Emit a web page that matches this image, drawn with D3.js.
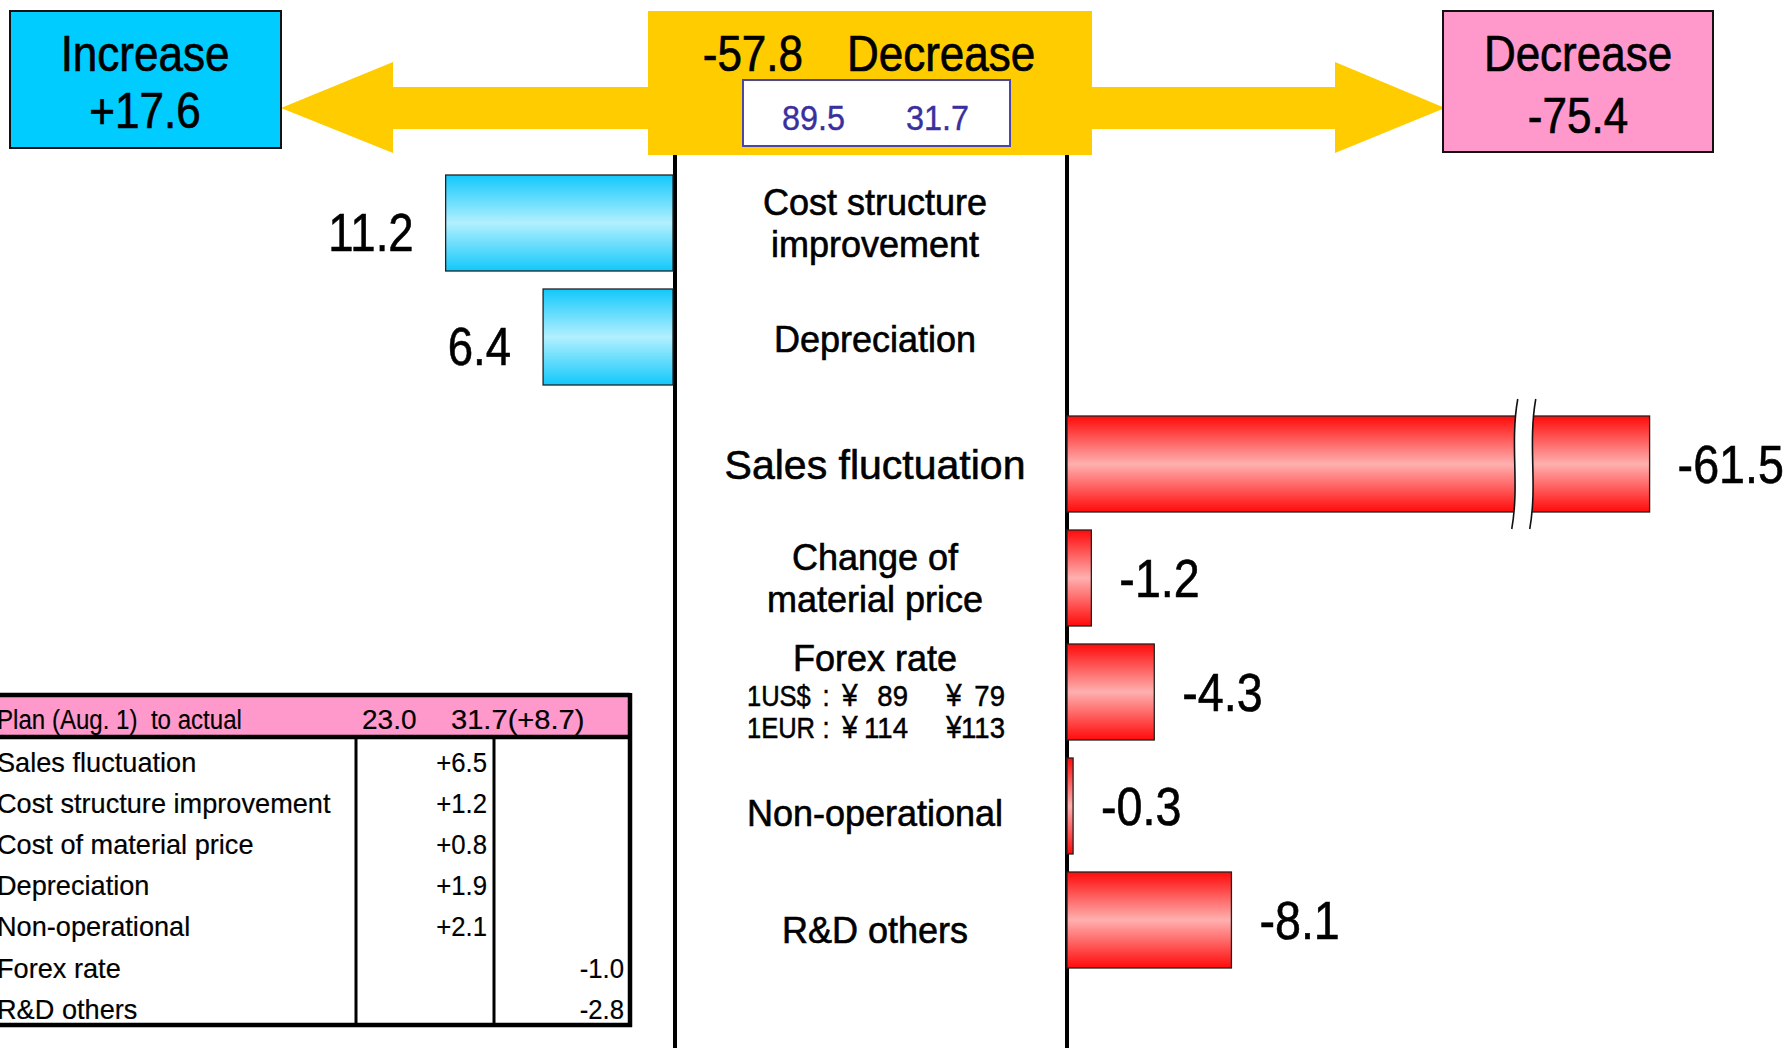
<!DOCTYPE html>
<html><head><meta charset="utf-8">
<script src="https://cdn.jsdelivr.net/npm/d3@7"></script>
<style>html,body{margin:0;padding:0;background:#fff;overflow:hidden}</style>
</head><body>
<svg id="chart" width="1786" height="1048"></svg>
<script>
// ---------- data ----------
const categories = ["Cost structure improvement","Depreciation","Sales fluctuation","Change of material price","Forex rate","Non-operational","R&D others"];
const categoryLines = [["Cost structure","improvement"],["Depreciation"],["Sales fluctuation"],["Change of","material price"],["Forex rate"],["Non-operational"],["R&D others"]];
const values = [11.2, 6.4, -61.5, -1.2, -4.3, -0.3, -8.1];
const totalIncrease = "+17.6";
const totalDecrease = "-75.4";
const netChange = "-57.8";
const profitPrev = "89.5";
const profitCurr = "31.7";
const forexRows = [["1US$","89","79"],["1EUR","114","113"]];
const tableHeader = ["Plan (Aug. 1)  to actual","23.0","31.7(+8.7)"];
const tableRows = ["Sales fluctuation","Cost structure improvement","Cost of material price","Depreciation","Non-operational","Forex rate","R&D others"];
const tablePlus = ["+6.5","+1.2","+0.8","+1.9","+2.1","",""];
const tableMinus = ["","","","","","-1.0","-2.8"];

// ---------- setup ----------
const FONT = "'Liberation Sans', Arial, Helvetica, sans-serif";
const svg = d3.select("#chart").attr("font-family", FONT);
const defs = svg.append("defs");
function grad(id, edge, mid){
  const g = defs.append("linearGradient").attr("id", id).attr("x1",0).attr("y1",0).attr("x2",0).attr("y2",1);
  [[0,edge],[0.5,mid],[1,edge]].forEach(([o,c])=>g.append("stop").attr("offset",o).attr("stop-color",c));
}
grad("gBlue", "#12c8fb", "#b2f0fe");
grad("gRed", "#ff0a0a", "#ffb0b0");

function txt(g, x, y, s, o){
  const fill = o.fill||"#000";
  return g.append("text")
    .attr("transform", `translate(${x},${y}) scale(${o.sx||1},1)`)
    .attr("font-size", o.size)
    .attr("text-anchor", o.anchor||"middle")
    .attr("fill", fill)
    .attr("stroke", o.sw ? fill : "none")
    .attr("stroke-width", o.sw||0)
    .style("white-space","pre")
    .text(s);
}

const axisL = 675, axisR = 1067, labelCx = 875;
const xs = d3.scaleLinear().domain([0, 30]).range([0, 609]);
const maxDisplay = 28.7;   // longer bars are drawn broken
const breakAt = 22.5;

const band = d3.scaleBand().domain(d3.range(values.length)).range([175, 175 + 114*(values.length - 18/114)]).paddingInner(18/114).paddingOuter(0);
const groupGap = 13;
const yTop = i => band(i) + (values[i] < 0 ? groupGap : 0);
const bh = band.bandwidth();
const yC = i => yTop(i) + bh/2;
// small vertical nudges of the centre labels (layout only)
const labelNudge = {"Non-operational": 7, "R&D others": 10, "Depreciation": 2};

// ---------- top arrows & boxes ----------
const yellow = "#ffcc00";
const topG = svg.append("g");
const line = d3.line();
topG.append("path").attr("fill", yellow)
  .attr("d", line([[281,108],[393,62],[393,87],[660,87],[660,129],[393,129],[393,153]]) + "Z");
topG.append("path").attr("fill", yellow)
  .attr("d", line([[1080,87],[1335,87],[1335,62],[1445,108],[1335,153],[1335,129],[1080,129]]) + "Z");
topG.append("rect").attr("x",648).attr("y",11).attr("width",444).attr("height",144).attr("fill",yellow);
topG.append("rect").attr("x",743).attr("y",80).attr("width",267).attr("height",66).attr("fill","#fff").attr("stroke","#4b47a8").attr("stroke-width",2);

topG.append("rect").attr("x",10).attr("y",11).attr("width",271).attr("height",137).attr("fill","#00ccff").attr("stroke","#111").attr("stroke-width",2);
topG.append("rect").attr("x",1443).attr("y",11).attr("width",270).attr("height",141).attr("fill","#ff99cc").attr("stroke","#111").attr("stroke-width",2);

const H = {size:50, sx:0.88, sw:0.7};
txt(topG, 145, 71, "Increase", H);
txt(topG, 145, 128, totalIncrease, H);
txt(topG, 1578, 71, "Decrease", H);
txt(topG, 1578, 133, totalDecrease, H);
txt(topG, 803, 71, netChange, {...H, anchor:"end"});
txt(topG, 847, 71, "Decrease", {...H, anchor:"start"});
txt(topG, 782, 130, profitPrev, {size:36, sx:0.9, anchor:"start", fill:"#3a2f9f", sw:0.4});
txt(topG, 906, 130, profitCurr, {size:36, sx:0.9, anchor:"start", fill:"#3a2f9f", sw:0.4});

// ---------- axis lines ----------
svg.append("line").attr("x1",axisL).attr("x2",axisL).attr("y1",155).attr("y2",1048).attr("stroke","#000").attr("stroke-width",4);
svg.append("line").attr("x1",axisR).attr("x2",axisR).attr("y1",155).attr("y2",1048).attr("stroke","#000").attr("stroke-width",4);

// ---------- bars ----------
const bars = svg.append("g");
values.forEach((v,i)=>{
  const w = xs(Math.min(Math.abs(v), maxDisplay));
  const x = v >= 0 ? axisL - 2 - w : axisR;
  bars.append("rect").attr("x", x).attr("y", yTop(i)).attr("width", w).attr("height", bh)
    .attr("fill", v >= 0 ? "url(#gBlue)" : "url(#gRed)").attr("stroke","#222").attr("stroke-width",1.3);
  const lbl = v >= 0 ? v.toFixed(1) : "-" + Math.abs(v).toFixed(1);
  if (v >= 0) txt(bars, x - 32, yC(i) + 28, lbl, {size:53, sx:0.86, anchor:"end", sw:0.6});
  else txt(bars, x + w + 28, yC(i) + 19, lbl, {size:53, sx:0.88, anchor:"start", sw:0.6});
  if (Math.abs(v) > maxDisplay){
    const cx = axisR + xs(breakAt), y0 = yTop(i) - 17, y1 = yTop(i) + bh + 17, h = y1 - y0;
    const curve = (ox) => `M${cx+ox+3},${y0} C${cx+ox-5},${y0+h*0.35} ${cx+ox+5},${y0+h*0.65} ${cx+ox-3},${y1}`;
    bars.append("path").attr("d", curve(-9) + ` L${cx+9-3},${y1} C${cx+9+5},${y0+h*0.65} ${cx+9-5},${y0+h*0.35} ${cx+9+3},${y0} Z`).attr("fill","#fff");
    bars.append("path").attr("d", curve(-9)).attr("fill","none").attr("stroke","#111").attr("stroke-width",1.6);
    bars.append("path").attr("d", curve(9)).attr("fill","none").attr("stroke","#111").attr("stroke-width",1.6);
  }
});

// ---------- category labels ----------
const labs = svg.append("g");
categoryLines.forEach((lines,i)=>{
  const fs = categories[i] === "Sales fluctuation" ? 41 : 36;
  const nudge = labelNudge[categories[i]] || 0;
  if (categories[i] === "Forex rate"){
    txt(labs, labelCx, yC(i) - 21, lines[0], {size:fs, sw:0.6});
    forexRows.forEach((r,k)=>{
      const by = yC(i) + 14 + k*32;
      const F = {size:29, sx:0.88, sw:0.5};
      txt(labs, 747, by, r[0], {...F, anchor:"start"});
      txt(labs, 826, by, ":", F);
      txt(labs, 842, by, "¥", {...F, size:32, anchor:"start"});
      txt(labs, 908, by, r[1], {...F, sx:0.95, anchor:"end"});
      txt(labs, 946, by, "¥", {...F, size:32, anchor:"start"});
      txt(labs, 1005, by, r[2], {...F, sx:0.95, anchor:"end"});
    });
  } else {
    lines.forEach((s,k)=>{
      txt(labs, labelCx, yC(i) + nudge + fs*0.36 + (k - (lines.length-1)/2)*42, s, {size:fs, sw:0.6});
    });
  }
});

// ---------- table ----------
const tb = svg.append("g");
const tTop = 695, tHead = 737, tBot = 1025, tRight = 630, c1 = 356, c2 = 494;
tb.append("rect").attr("x",-10).attr("y",tTop).attr("width",tRight+10).attr("height",tHead-tTop).attr("fill","#ff99cc");
[[ -10,tTop,tRight,tTop],[-10,tHead,tRight,tHead],[-10,tBot,tRight+2,tBot],[tRight,tTop-2,tRight,tBot+2]].forEach(([a,b,c,d])=>
  tb.append("line").attr("x1",a).attr("y1",b).attr("x2",c).attr("y2",d).attr("stroke","#000").attr("stroke-width",4.5));
[c1,c2].forEach(x=>tb.append("line").attr("x1",x).attr("x2",x).attr("y1",tHead).attr("y2",tBot).attr("stroke","#000").attr("stroke-width",3));
txt(tb, -3, 729, tableHeader[0], {size:28, sx:0.86, anchor:"start", sw:0.2});
txt(tb, 362, 729, tableHeader[1], {size:28, sx:1, anchor:"start", sw:0.2});
txt(tb, 451, 729, tableHeader[2], {size:28, sx:1.04, anchor:"start", sw:0.2});
tableRows.forEach((r,i)=>{
  const by = 772 + i*41.1;
  txt(tb, -3, by, r, {size:28, sx:0.97, anchor:"start", sw:0.2});
  if (tablePlus[i]) txt(tb, 487, by, tablePlus[i], {size:28, sx:0.92, anchor:"end", sw:0.2});
  if (tableMinus[i]) txt(tb, 624, by, tableMinus[i], {size:28, sx:0.92, anchor:"end", sw:0.2});
});
</script>
</body></html>
